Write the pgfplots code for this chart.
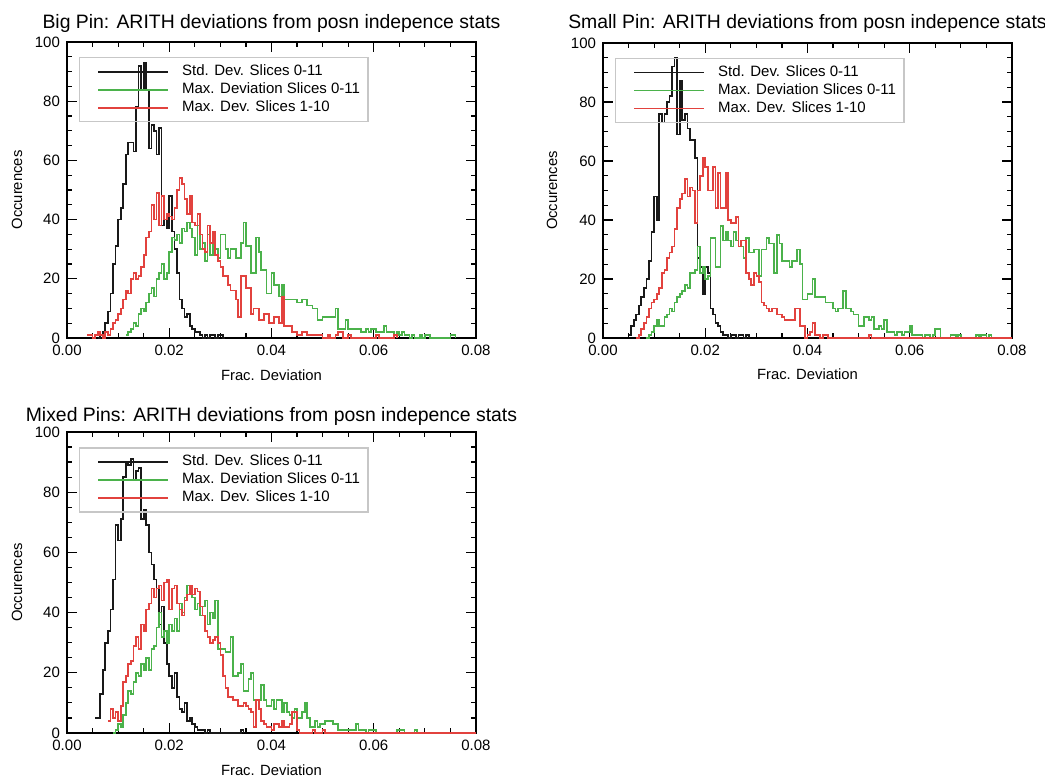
\documentclass[border=0pt]{standalone}
\usepackage{fontspec}
\setmainfont{Liberation Sans}
\usepackage{pgfplots}
\pgfplotsset{compat=1.18}
\definecolor{hgreen}{RGB}{75,178,75}
\definecolor{hred}{RGB}{226,66,62}
\definecolor{hblack}{RGB}{25,25,25}

\pgfplotsset{
  idlpanel/.style={
    scale only axis, width=204.5pt, height=148pt,
    xmin=0, xmax=0.08, ymin=0, ymax=100,
    xtick={0,0.02,0.04,0.06,0.08}, ytick={0,20,40,60,80,100},
    minor tick num=3, tick align=inside,
    major tick length=5pt, minor tick length=2.5pt,
    axis line style={line width=0.9pt},
    every tick/.style={line width=0.6pt, black},
    tick label style={font=\fontsize{7.5}{8}\selectfont},
    /pgf/number format/assume math mode=true,
    scaled x ticks=false,
    xticklabel style={/pgf/number format/fixed, /pgf/number format/fixed zerofill,
      /pgf/number format/precision=2},
    xlabel={Frac. Deviation}, ylabel={Occurences},
    label style={font=\fontsize{7.4}{8}\selectfont},
    xlabel style={at={(axis description cs:0.5,-0.142)}, anchor=base},
    ylabel style={at={(axis description cs:-0.11,0.5)}, anchor=base},
    legend cell align=left,
    legend style={at={(axis description cs:0.029,0.949)}, anchor=north west,
      draw=black!22, fill=none, line width=0.6pt,
      font=\fontsize{7.5}{8}\selectfont,
      inner xsep=1pt, inner ysep=2.5pt, row sep=0pt, column sep=3.5pt,
      nodes={inner xsep=3pt, inner ysep=1.25pt, text height=5pt, text depth=1.5pt}},
    legend image code/.code={\path (0pt,0pt); \draw[#1] (8pt,0pt) -- (43pt,0pt);},
    clip=false,
  },
  hist/.style={const plot mark left, mark=none, line width=0.85pt},
}

\begin{document}
\begin{tikzpicture}
\path[use as bounding box] (0,0) rectangle (522.5pt,391pt);

% ---------------- Big Pin ----------------
\begin{axis}[idlpanel, at={(33.5pt,222pt)}, anchor=south west,
  title={Big Pin: ARITH deviations from posn indepence stats},
  title style={at={(axis description cs:0.5,1.006)}, anchor=base, yshift=0pt,
    inner sep=0pt, font=\fontsize{9.7}{10}\selectfont}]
\addplot[hist, hblack] coordinates {
(0.0060,0)(0.0065,1)(0.0070,2)(0.0075,5)(0.0080,9)(0.0085,15)(0.0090,25)(0.0095,31)
(0.0100,40)(0.0105,44)(0.0110,52)(0.0115,62)(0.0120,66)(0.0125,66)(0.0130,63)(0.0135,78)
(0.0140,92)(0.0145,84)(0.0150,93)(0.0155,84)(0.0160,64)(0.0165,72)(0.0170,70)(0.0175,62)
(0.0180,71)(0.0185,38)(0.0190,40)(0.0195,37)(0.0200,48)(0.0205,36)(0.0210,30)(0.0215,22)
(0.0220,13)(0.0225,10)(0.0230,7)(0.0235,8)(0.0240,4)(0.0245,3)(0.0250,2)(0.0255,2)
(0.0260,1)(0.0265,0)(0.0270,1)(0.0275,0)(0.0280,1)(0.0285,1)(0.0290,0)(0.0295,1)
(0.0300,1)(0.0305,0)(0.0310,0)};
\addlegendentry{Std. Dev. Slices 0-11}
\addplot[hist, hgreen] coordinates {
(0.0115,1)(0.0120,2)(0.0125,3)(0.0130,5)(0.0135,4)(0.0140,8)(0.0145,10)(0.0150,9)
(0.0155,12)(0.0160,15)(0.0165,17)(0.0170,14)(0.0175,20)(0.0180,22)(0.0185,25)(0.0190,20)
(0.0195,22)(0.0200,29)(0.0205,34)(0.0210,33)(0.0215,35)(0.0220,32)(0.0225,37)(0.0230,36)
(0.0235,39)(0.0240,37)(0.0245,34)(0.0250,28)(0.0255,38)(0.0260,30)(0.0265,32)(0.0270,26)
(0.0275,35)(0.0280,28)(0.0285,34)(0.0290,30)(0.0295,27)(0.0300,35)(0.0305,35)(0.0310,30)
(0.0315,27)(0.0320,30)(0.0325,30)(0.0330,27)(0.0335,27)(0.0340,32)(0.0345,39)(0.0350,31)
(0.0355,31)(0.0360,22)(0.0365,22)(0.0370,34)(0.0375,29)(0.0380,23)(0.0385,23)(0.0390,15)
(0.0395,15)(0.0400,22)(0.0405,18)(0.0410,18)(0.0415,14)(0.0420,18)(0.0425,13)(0.0430,13)
(0.0435,13)(0.0440,13)(0.0445,13)(0.0450,12)(0.0455,12)(0.0460,13)(0.0465,13)(0.0470,11)
(0.0475,11)(0.0480,10)(0.0485,10)(0.0490,6)(0.0495,6)(0.0500,7)(0.0505,7)(0.0510,7)
(0.0515,7)(0.0520,7)(0.0525,10)(0.0530,3)(0.0535,3)(0.0540,3)(0.0545,6)(0.0550,3)
(0.0555,3)(0.0560,3)(0.0565,3)(0.0570,3)(0.0575,2)(0.0580,2)(0.0585,3)(0.0590,2)
(0.0595,3)(0.0600,3)(0.0605,2)(0.0610,2)(0.0615,2)(0.0620,4)(0.0625,2)(0.0630,2)
(0.0635,2)(0.0640,1)(0.0645,2)(0.0650,1)(0.0655,2)(0.0660,1)(0.0665,1)(0.0670,0)
(0.0675,1)(0.0680,0)(0.0690,1)(0.0695,0)(0.0700,1)(0.0705,1)(0.0710,0)(0.0750,1)
(0.0755,1)(0.0760,0)};
\addlegendentry{Max. Deviation Slices 0-11}
\addplot[hist, hred] coordinates {
(0.0040,1)(0.0045,1)(0.0050,0)(0.0055,1)(0.0060,2)(0.0065,1)(0.0070,0)(0.0075,2)
(0.0080,1)(0.0085,3)(0.0090,5)(0.0095,6)(0.0100,8)(0.0105,10)(0.0110,13)(0.0115,16)
(0.0120,15)(0.0125,20)(0.0130,22)(0.0135,20)(0.0140,21)(0.0145,24)(0.0150,28)(0.0155,34)
(0.0160,36)(0.0165,45)(0.0170,40)(0.0175,49)(0.0180,38)(0.0185,48)(0.0190,40)(0.0195,42)
(0.0200,41)(0.0205,40)(0.0210,44)(0.0215,50)(0.0220,54)(0.0225,52)(0.0230,47)(0.0235,42)
(0.0240,48)(0.0245,39)(0.0250,38)(0.0255,42)(0.0260,35)(0.0265,30)(0.0270,29)(0.0275,38)
(0.0280,32)(0.0285,36)(0.0290,28)(0.0295,26)(0.0300,24)(0.0305,21)(0.0310,21)(0.0315,18)
(0.0320,16)(0.0325,16)(0.0330,13)(0.0335,7)(0.0340,21)(0.0345,21)(0.0350,17)(0.0355,17)
(0.0360,8)(0.0365,10)(0.0370,10)(0.0375,6)(0.0380,6)(0.0385,8)(0.0390,8)(0.0395,5)
(0.0400,5)(0.0405,7)(0.0410,7)(0.0415,5)(0.0420,14)(0.0425,4)(0.0430,4)(0.0435,4)
(0.0440,2)(0.0445,2)(0.0450,1)(0.0455,1)(0.0460,2)(0.0465,2)(0.0470,1)(0.0475,1)
(0.0480,1)(0.0485,1)(0.0490,1)(0.0495,1)(0.0500,0)(0.0510,1)(0.0515,0)(0.0525,1)
(0.0530,2)(0.0535,2)(0.0540,0)(0.0550,1)(0.0555,0)(0.0605,1)(0.0610,0)(0.0640,1)
(0.0645,0)};
\addlegendentry{Max. Dev. Slices 1-10}
\end{axis}

% ---------------- Small Pin ----------------
\begin{axis}[idlpanel, at={(301.5pt,222pt)}, anchor=south west, height=147.5pt,
  title={Small Pin: ARITH deviations from posn indepence stats},
  title style={at={(axis description cs:0.5,1.010)}, anchor=base, yshift=0pt,
    inner sep=0pt, font=\fontsize{9.7}{10}\selectfont},
  ylabel style={at={(axis description cs:-0.112,0.5)}}]
\addplot[hist, hblack] coordinates {
(0.0050,1)(0.0055,4)(0.0060,6)(0.0065,8)(0.0070,11)(0.0075,14)(0.0080,17)(0.0085,20)
(0.0090,26)(0.0095,36)(0.0100,48)(0.0105,40)(0.0110,76)(0.0115,73)(0.0120,76)(0.0125,80)
(0.0130,82)(0.0135,92)(0.0140,95)(0.0145,69)(0.0150,87)(0.0155,74)(0.0160,76)(0.0165,71)
(0.0170,67)(0.0175,67)(0.0180,61)(0.0185,27)(0.0190,24)(0.0195,15)(0.0200,24)(0.0205,22)
(0.0210,10)(0.0215,8)(0.0220,5)(0.0225,4)(0.0230,2)(0.0235,1)(0.0240,1)(0.0245,0)
(0.0250,1)(0.0255,1)(0.0260,0)(0.0265,1)(0.0270,1)(0.0275,0)(0.0280,1)(0.0285,0)};
\addlegendentry{Std. Dev. Slices 0-11}
\addplot[hist, hgreen] coordinates {
(0.0085,0)(0.0090,1)(0.0095,2)(0.0100,4)(0.0105,6)(0.0110,4)(0.0115,4)(0.0120,7)
(0.0125,8)(0.0130,10)(0.0135,9)(0.0140,12)(0.0145,14)(0.0150,15)(0.0155,16)(0.0160,18)
(0.0165,17)(0.0170,22)(0.0175,22)(0.0180,23)(0.0185,31)(0.0190,22)(0.0195,24)(0.0200,20)
(0.0205,21)(0.0210,34)(0.0215,34)(0.0220,24)(0.0225,24)(0.0230,38)(0.0235,33)(0.0240,36)
(0.0245,33)(0.0250,31)(0.0255,36)(0.0260,33)(0.0265,31)(0.0270,31)(0.0275,27)(0.0280,34)
(0.0285,29)(0.0290,29)(0.0295,30)(0.0300,30)(0.0305,21)(0.0310,30)(0.0315,30)(0.0320,34)
(0.0325,32)(0.0330,32)(0.0335,22)(0.0340,35)(0.0345,32)(0.0350,26)(0.0355,26)(0.0360,26)
(0.0365,24)(0.0370,26)(0.0375,26)(0.0380,30)(0.0385,25)(0.0390,13)(0.0395,13)(0.0400,15)
(0.0405,15)(0.0410,20)(0.0415,14)(0.0420,14)(0.0425,14)(0.0430,14)(0.0435,12)(0.0440,12)
(0.0445,12)(0.0450,10)(0.0455,9)(0.0460,10)(0.0465,10)(0.0470,16)(0.0475,10)(0.0480,10)
(0.0485,9)(0.0490,8)(0.0495,8)(0.0500,4)(0.0505,4)(0.0510,7)(0.0515,7)(0.0520,6)
(0.0525,7)(0.0530,3)(0.0535,3)(0.0540,4)(0.0545,3)(0.0550,6)(0.0555,2)(0.0560,2)
(0.0565,2)(0.0570,1)(0.0575,2)(0.0580,2)(0.0585,1)(0.0590,2)(0.0595,2)(0.0600,4)
(0.0605,1)(0.0610,1)(0.0615,1)(0.0620,1)(0.0625,0)(0.0630,1)(0.0635,1)(0.0640,0)
(0.0645,1)(0.0650,3)(0.0655,3)(0.0660,0)(0.0680,1)(0.0685,1)(0.0690,0)(0.0695,1)
(0.0700,0)(0.0730,1)(0.0735,0)(0.0740,1)(0.0745,1)(0.0750,0)(0.0755,1)(0.0760,0)};
\addlegendentry{Max. Deviation Slices 0-11}
\addplot[hist, hred] coordinates {
(0.0065,0)(0.0070,1)(0.0075,3)(0.0080,5)(0.0085,7)(0.0090,10)(0.0095,12)(0.0100,13)
(0.0105,15)(0.0110,17)(0.0115,22)(0.0120,23)(0.0125,27)(0.0130,29)(0.0135,31)(0.0140,37)
(0.0145,44)(0.0150,47)(0.0155,49)(0.0160,54)(0.0165,48)(0.0170,51)(0.0175,50)(0.0180,39)
(0.0185,50)(0.0190,55)(0.0195,61)(0.0200,58)(0.0205,50)(0.0210,50)(0.0215,58)(0.0220,44)
(0.0225,56)(0.0230,44)(0.0235,44)(0.0240,56)(0.0245,40)(0.0250,39)(0.0255,39)(0.0260,41)
(0.0265,31)(0.0270,33)(0.0275,33)(0.0280,22)(0.0285,20)(0.0290,18)(0.0295,22)(0.0300,21)
(0.0305,19)(0.0310,12)(0.0315,11)(0.0320,10)(0.0325,9)(0.0330,10)(0.0335,10)(0.0340,8)
(0.0345,8)(0.0350,7)(0.0355,6)(0.0360,6)(0.0365,6)(0.0370,6)(0.0375,10)(0.0380,10)
(0.0385,4)(0.0390,4)(0.0395,0)(0.0400,1)(0.0405,2)(0.0410,5)(0.0415,1)(0.0420,1)
(0.0425,0)(0.0430,1)(0.0435,1)(0.0440,0)(0.0520,1)(0.0525,0)(0.0800,0)};
\addlegendentry{Max. Dev. Slices 1-10}
\end{axis}

% ---------------- Mixed Pins ----------------
\begin{axis}[idlpanel, at={(33.5pt,24.5pt)}, anchor=south west, height=150.5pt,
  title={Mixed Pins: ARITH deviations from posn indepence stats},
  title style={at={(axis description cs:0.5,0.996)}, anchor=base, yshift=0pt,
    inner sep=0pt, font=\fontsize{9.7}{10}\selectfont},
  xlabel style={at={(axis description cs:0.5,-0.14)}}]
\addplot[hist, hblack] coordinates {
(0.0055,5)(0.0060,5)(0.0065,13)(0.0070,21)(0.0075,30)(0.0080,34)(0.0085,41)(0.0090,51)
(0.0095,69)(0.0100,64)(0.0105,71)(0.0110,85)(0.0115,90)(0.0120,89)(0.0125,91)(0.0130,84)
(0.0135,87)(0.0140,88)(0.0145,71)(0.0150,74)(0.0155,69)(0.0160,60)(0.0165,56)(0.0170,51)
(0.0175,48)(0.0180,36)(0.0185,42)(0.0190,30)(0.0195,23)(0.0200,19)(0.0205,15)(0.0210,20)
(0.0215,12)(0.0220,8)(0.0225,7)(0.0230,10)(0.0235,4)(0.0240,5)(0.0245,3)(0.0250,2)
(0.0255,1)(0.0260,1)(0.0265,1)(0.0270,0)(0.0275,1)(0.0280,0)(0.0340,1)(0.0345,0)};
\addlegendentry{Std. Dev. Slices 0-11}
\addplot[hist, hgreen] coordinates {
(0.0090,0)(0.0095,1)(0.0100,3)(0.0105,2)(0.0110,6)(0.0115,10)(0.0120,14)(0.0125,13)
(0.0130,17)(0.0135,20)(0.0140,19)(0.0145,23)(0.0150,21)(0.0155,25)(0.0160,21)(0.0165,28)
(0.0170,29)(0.0175,35)(0.0180,40)(0.0185,32)(0.0190,34)(0.0195,30)(0.0200,36)(0.0205,34)
(0.0210,38)(0.0215,34)(0.0220,43)(0.0225,40)(0.0230,45)(0.0235,49)(0.0240,48)(0.0245,45)
(0.0250,41)(0.0255,43)(0.0260,39)(0.0265,42)(0.0270,44)(0.0275,36)(0.0280,40)(0.0285,38)
(0.0290,44)(0.0295,28)(0.0300,28)(0.0305,28)(0.0310,27)(0.0315,27)(0.0320,32)(0.0325,19)
(0.0330,19)(0.0335,20)(0.0340,23)(0.0345,14)(0.0350,14)(0.0355,18)(0.0360,20)(0.0365,11)
(0.0370,11)(0.0375,11)(0.0380,16)(0.0385,11)(0.0390,9)(0.0395,9)(0.0400,11)(0.0405,8)
(0.0410,11)(0.0415,11)(0.0420,7)(0.0425,10)(0.0430,7)(0.0435,6)(0.0440,5)(0.0445,8)
(0.0450,5)(0.0455,5)(0.0460,7)(0.0465,10)(0.0470,5)(0.0475,2)(0.0480,2)(0.0485,4)
(0.0490,2)(0.0495,3)(0.0500,3)(0.0505,4)(0.0510,4)(0.0515,4)(0.0520,3)(0.0525,3)
(0.0530,1)(0.0535,1)(0.0540,1)(0.0545,1)(0.0550,1)(0.0555,1)(0.0560,1)(0.0565,3)
(0.0570,1)(0.0575,1)(0.0580,1)(0.0585,0)(0.0590,1)(0.0595,1)(0.0600,1)(0.0605,0)
(0.0645,1)(0.0650,1)(0.0655,1)(0.0660,0)(0.0680,1)(0.0685,0)};
\addlegendentry{Max. Deviation Slices 0-11}
\addplot[hist, hred] coordinates {
(0.0080,4)(0.0085,8)(0.0090,5)(0.0095,7)(0.0100,4)(0.0105,9)(0.0110,17)(0.0115,19)
(0.0120,23)(0.0125,24)(0.0130,29)(0.0135,32)(0.0140,28)(0.0145,36)(0.0150,34)(0.0155,41)
(0.0160,43)(0.0165,48)(0.0170,45)(0.0175,48)(0.0180,49)(0.0185,44)(0.0190,50)(0.0195,51)
(0.0200,41)(0.0205,48)(0.0210,49)(0.0215,43)(0.0220,41)(0.0225,39)(0.0230,44)(0.0235,46)
(0.0240,49)(0.0245,46)(0.0250,48)(0.0255,47)(0.0260,42)(0.0265,39)(0.0270,34)(0.0275,32)
(0.0280,30)(0.0285,31)(0.0290,32)(0.0295,30)(0.0300,26)(0.0305,19)(0.0310,15)(0.0315,12)
(0.0320,12)(0.0325,11)(0.0330,11)(0.0335,9)(0.0340,9)(0.0345,10)(0.0350,9)(0.0355,8)
(0.0360,7)(0.0365,2)(0.0370,11)(0.0375,8)(0.0380,4)(0.0385,3)(0.0390,2)(0.0395,2)
(0.0400,1)(0.0405,3)(0.0410,3)(0.0415,2)(0.0420,4)(0.0425,2)(0.0430,2)(0.0435,3)
(0.0440,7)(0.0445,7)(0.0450,1)(0.0455,0)(0.0480,1)(0.0485,0)(0.0500,1)(0.0505,0)
(0.0800,0)};
\addlegendentry{Max. Dev. Slices 1-10}
\end{axis}
\end{tikzpicture}
\end{document}
